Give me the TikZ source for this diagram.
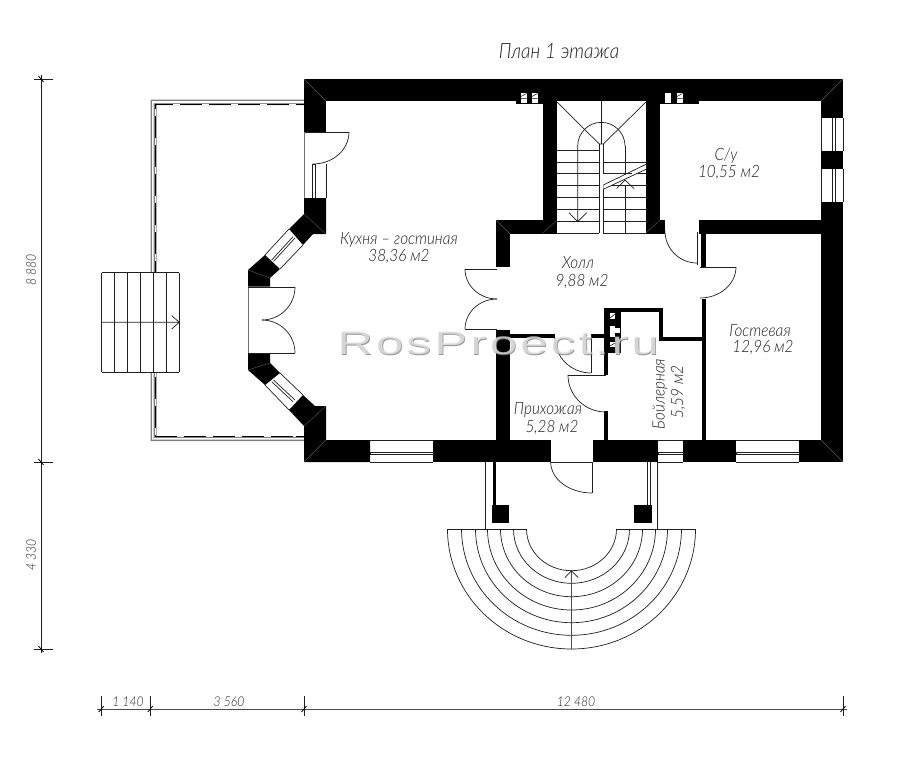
\documentclass[tikz,border=0pt]{standalone}
\usepackage{fontspec}
\setmainfont{Liberation Sans}
\newfontfamily\cadfont{Lato}[UprightFont=* Light,ItalicFont=* Light Italic,FakeStretch=0.9]
\newfontfamily\wmfont{Liberation Sans}[FakeStretch=1.5,LetterSpace=9]
\tikzset{
  wall/.style={fill=black,draw=none},
  thinline/.style={draw=black!88,line width=0.7pt},
  grayline/.style={draw=black!55,line width=0.9pt},
  roomlabel/.style={font=\cadfont\itshape\fontsize{17}{17}\selectfont,text=black!88,inner sep=0pt},
  dimlabel/.style={font=\cadfont\itshape\fontsize{13.5}{14}\selectfont,text=black!85,inner sep=0pt},
  mitre/.style={draw=black!65,line width=0.4pt},
  wmark/.style={font=\wmfont\fontsize{33}{33}\selectfont,inner sep=0pt}
}
\begin{document}
\begin{tikzpicture}[x=1pt,y=1pt,yscale=-1]
\useasboundingbox[fill=white] (0,0) rectangle (900,760);
% terrace
\fill[black!50] (150.7,99.6) -- (304,99.6) -- (304,105) -- (156.6,105) -- (156.6,436) -- (304,436) -- (304,441) -- (150.7,441) -- cycle;
\fill[white] (152.2,101.2) -- (304,101.2) -- (304,103) -- (153.6,103) -- (153.6,438) -- (304,438) -- (304,439.6) -- (152.2,439.6) -- cycle;
\draw[black,line width=1.2pt] (304,104.4) -- (155.8,104.4) -- (155.8,436.4) -- (304,436.4);
\draw[white,line width=1.3pt,dash pattern=on 7pt off 22pt] (296,104.4) -- (155.8,104.4) -- (155.8,436.4) -- (296,436.4);
% terrace stairs
\fill[white] (101.7,272.7) rectangle (179.3,372);
\foreach \x in {101.7,114.3,127.7,140.7,153.3,166.7,179.3} \draw[thinline] (\x,272.7) -- (\x,372);
\draw[thinline] (101.7,272.7) -- (179.3,272.7) (101.7,372) -- (179.3,372);
\draw[thinline] (101.7,322.3) -- (179.3,322.3) (171.7,315.7) -- (179.3,322.3) -- (171.7,329);
% outer walls
\fill[wall] (304,79) rectangle (843,101);
\fill[wall] (304,79) rectangle (326,132);
\fill[wall] (821,79) rectangle (843,118);
\fill[wall] (821,151) rectangle (843,169);
\fill[wall] (821,202) rectangle (843,462);
\fill[wall] (304,426) -- (289,410) -- (303,395) -- (315,406) -- (326,406) -- (326,440) -- (370,440) -- (370,462) -- (304,462) -- cycle;
\fill[wall] (433,440) rectangle (550.7,462);
\fill[wall] (592.7,440) rectangle (658,462);
\fill[wall] (683,440) rectangle (736,462);
\fill[wall] (799,440) rectangle (843,462);
% bay walls
\fill[wall] (304,198) -- (326,198) -- (326,234) -- (313,234) -- (303,245) -- (289,229) -- (304,214) -- cycle;
\fill[wall] (265,255) -- (248,270) -- (248,286.5) -- (270,286.5) -- (270,278) -- (280,269) -- cycle;
\fill[wall] (248,354) -- (270,354) -- (270,363) -- (280,373) -- (265,385) -- (248,370) -- cycle;
% inner walls
\fill[wall] (543,101) rectangle (557,233);
\fill[wall] (646,101) rectangle (660,233);
\fill[wall] (496,220) rectangle (557,234);
\fill[wall] (496,220) rectangle (510,267);
\fill[wall] (646,220) rectangle (665,234);
\fill[wall] (698.5,220) rectangle (821,234);
\fill[wall] (700.5,234) rectangle (705.5,267);
\fill[wall] (701.7,299) rectangle (705.7,440);
\fill[wall] (496,330) rectangle (510,440);
\fill[wall] (510,333.5) rectangle (555,338);
\fill[wall] (592,333.5) rectangle (605,338);
\fill[wall] (603.5,308) rectangle (608,375);
\fill[wall] (603.5,308) rectangle (621,353);
\fill[wall] (603.5,308) rectangle (663,312);
\fill[wall] (659,308) rectangle (663,341);
\fill[wall] (659,337) rectangle (702,341);
\fill[wall] (603.7,411) rectangle (608,440);
% flues
\fill[wall] (516,101) rectangle (543,104);
\fill[wall] (660,101) rectangle (699,104);
\foreach \x in {521,532,677} {
  \fill[white] (\x,93) rectangle ++(5.5,10);
  \draw[black,line width=0.5pt] (\x,98.5) -- ++(5.5,0) (\x,96.5) -- ++(5.5,-3);
}
\fill[white] (665,93) rectangle (670.5,103);
\foreach \y in {0,14.5} {
  \fill[white] (610,313+\y) rectangle (615,319+\y);
  \draw[black,line width=0.5pt] (610,318+\y) -- (615,314+\y);
}
\fill[white] (610,326) rectangle (615,337);
\fill[white] (615,328) rectangle (620,333);
\fill[white] (610,342) rectangle (615,347);
\draw[black,line width=0.5pt] (610,346) -- (615,343);
% mitre lines
\draw[mitre] (304,79) -- (326,101) (843,79) -- (821,101) (843,462) -- (821,440) (304,462) -- (326,440);
\draw[mitre] (304,214) -- (326,234) (304,426) -- (326,406) (496,220) -- (510,234) (557,220) -- (543,233) (646,233) -- (660,220);
\draw[mitre] (248,270) -- (270,278) (248,370) -- (270,363);
% kitchen door and window
\draw[grayline] (304,132) -- (304,198);
\draw[thinline] (326,164) -- (326,198);
\draw[thinline] (305,132) -- (349,132);
\draw[thinline] (349,132) arc[start angle=0,end angle=90,x radius=36,y radius=32];
\draw[thinline] (312.7,164) -- (312.7,198) (315,164) -- (315,198) (312.7,164) -- (315,164);
% double door
\draw[grayline] (248,287) -- (248,353);
\draw[thinline] (248,287) -- (295,287) (248,353) -- (295,353);
\draw[thinline] (295,287) arc[start angle=0,end angle=90,radius=33];
\draw[thinline] (295,353) arc[start angle=0,end angle=-90,radius=33];
% bay windows
\draw[thinline] (289,229) -- (265,255) (303,245) -- (280,269);
\draw[thinline] (293,236.7) -- (271.7,260) (295,238) -- (273.5,261.5);
\draw[thinline] (265,385) -- (289,410) (280,373) -- (303,395);
\draw[thinline] (271.7,381.7) -- (293,401.7) (273.5,380) -- (295,400);
% bottom windows
\foreach \a/\b in {370/433,658/683,736/799} {
  \draw[thinline] (\a,440) -- (\b,440) (\a,462) -- (\b,462);
  \draw[thinline] (\a,452.3) -- (\b,452.3) (\a,454.8) -- (\b,454.8);
  \draw[thinline] (\a,452.3) -- (\a,454.8) (\b,452.3) -- (\b,454.8);
}
% right windows
\foreach \a/\b in {118/151,169/202} {
  \draw[thinline] (821,\a) -- (821,\b) (843,\a) -- (843,\b);
  \draw[thinline] (832.7,\a) -- (832.7,\b) (835.3,\a) -- (835.3,\b);
}
% staircase
\foreach \y in {150,162.3,173.3,185.3,197.3,209.3,221.7,233} \draw[thinline] (557,\y) -- (599.3,\y);
\foreach \y in {162.3,173.3,185.3,197.3,209.3,221.7,233} \draw[thinline] (603.3,\y) -- (646,\y);
\draw[thinline] (557,102) -- (599.3,144) -- (603.3,144) -- (646,102);
\draw[thinline] (601.5,101) -- (601.5,144);
\draw[thinline] (599.3,144) -- (599.3,233) (603.3,144) -- (603.3,233);
\draw[thinline] (577.7,146) arc[start angle=180,end angle=360,radius=23.65];
\draw[thinline] (577.7,146) -- (577.7,221.7) (569,212.7) -- (577.7,221.7) -- (586.7,212.7);
\draw[thinline] (625,146) -- (625,233);
\fill[white] (603.3,185) -- (646,164.3) -- (646,169.3) -- (603.3,189.3) -- cycle;
\fill[white] (603.3,174) rectangle (632,185) ;
\draw[thinline] (603.3,162.3) -- (646,162.3) (603.3,173.3) -- (632,173.3);
\fill[white] (624,174) -- (632,174) -- (632,182) -- (624,184) -- cycle;
\draw[thinline] (603.3,185) -- (646,164.3) (603.3,189.3) -- (646,169.3);
\draw[thinline] (616.5,188.5) -- (625,180) -- (634,188.5);
% hall double door
\draw[thinline] (497,269) -- (465,269) (497,329) -- (465,329);
\draw[thinline] (465,269) arc[start angle=180,end angle=90,x radius=32,y radius=30];
\draw[thinline] (465,329) arc[start angle=180,end angle=270,x radius=32,y radius=30];
% door stair side
\draw[thinline] (665,231) arc[start angle=180,end angle=90,radius=32];
\draw[thinline] (697,232) -- (697,265);
% guest door
\draw[thinline] (700,267) -- (736,267);
\draw[thinline] (736,267) arc[start angle=0,end angle=90,x radius=36,y radius=31];
% entrance hall door
\draw[thinline] (555,338) arc[start angle=180,end angle=90,x radius=36,y radius=35];
\draw[thinline] (591,333.5) -- (591,373);
% boiler door
\draw[thinline] (568,375) -- (605.7,375);
\draw[thinline] (568,375) arc[start angle=180,end angle=90,x radius=37.7,y radius=37];
% outer door
\draw[thinline] (550.7,462) -- (592,462) (592,462) -- (592,493);
\draw[thinline] (550.7,462) arc[start angle=180,end angle=90,x radius=41.3,y radius=31];
% porch
\draw[thinline] (485,462) -- (485,529) (657,462) -- (657,529);
\draw[black,line width=2.6pt] (494.5,462) -- (494.5,505);
\draw[thinline] (647,462) -- (647,505) (650,462) -- (650,505);
\fill[wall] (492,505) rectangle (509,523);
\fill[wall] (634,505) rectangle (652,523);
\draw[thinline] (447.5,529) -- (527,529) (616.5,529) -- (695.5,529);
\foreach \rx/\ry in {45/41.7,58/54.3,71/67.7,84/81,96/93.7,110/106.3,124/120}
  \draw[thinline] (571.5-\rx,529) arc[start angle=180,end angle=0,x radius=\rx,y radius=\ry];
\draw[black!70,line width=0.9pt] (571.5,570.7) -- (571.5,649);
\draw[thinline] (564.8,577.7) -- (571.5,570.7) -- (578.2,577.7);
% dimension lines
\draw[thinline] (41,75) -- (41,653);
\foreach \y in {79,462,649} {
  \draw[thinline] (34,\y) -- (53,\y);
  \draw[black,line width=0.8pt] (38.5,\y-3) -- (43.5,\y+3);
}
\draw[black!70,line width=0.7pt] (97,709) -- (847,709);
\foreach \x in {101.3,150.3,304,843} {
  \draw[thinline] (\x,696) -- (\x,716);
  \draw[black,line width=0.8pt] (\x-2.5,712) -- (\x+2.5,706);
}
\node[dimlabel] (d1) at (128,702) {1 140};
\node[dimlabel] (d2) at (229,702) {3 560};
\node[dimlabel] (d3) at (576,702) {12 480};
\node[dimlabel,rotate=90] (d4) at (31,270) {8 880};
\node[dimlabel,rotate=90] (d5) at (31,555) {4 330};
% labels
\node[roomlabel,font=\cadfont\itshape\fontsize{21}{21}\selectfont] (title) at (559,51) {План 1 этажа};
\node[roomlabel] (k1) at (399,240) {Кухня – гостиная};
\node[roomlabel] (k2) at (399,256) {38,36 м2};
\node[roomlabel] (h1) at (578,263) {Холл};
\node[roomlabel] (h2) at (582,281) {9,88 м2};
\node[roomlabel] (s1) at (726,156) {С/у};
\node[roomlabel] (s2) at (729,172) {10,55 м2};
\node[roomlabel] (g1) at (760,331) {Гостевая};
\node[roomlabel] (g2) at (763,347) {12,96 м2};
\node[roomlabel] (p1) at (548,410) {Прихожая};
\node[roomlabel] (p2) at (552,427) {5,28 м2};
\node[roomlabel,rotate=90] (b1) at (660,394) {Бойлерная};
\node[roomlabel,rotate=90] (b2) at (678,392) {5,59 м2};
% watermark
\node[wmark,text=black!55,opacity=.75] (w0) at (498.8,344.2) {RosProect.ru};
\node[wmark,text=black!8,opacity=.75] (w1) at (498,343.4) {RosProect.ru};
\end{tikzpicture}
\end{document}
